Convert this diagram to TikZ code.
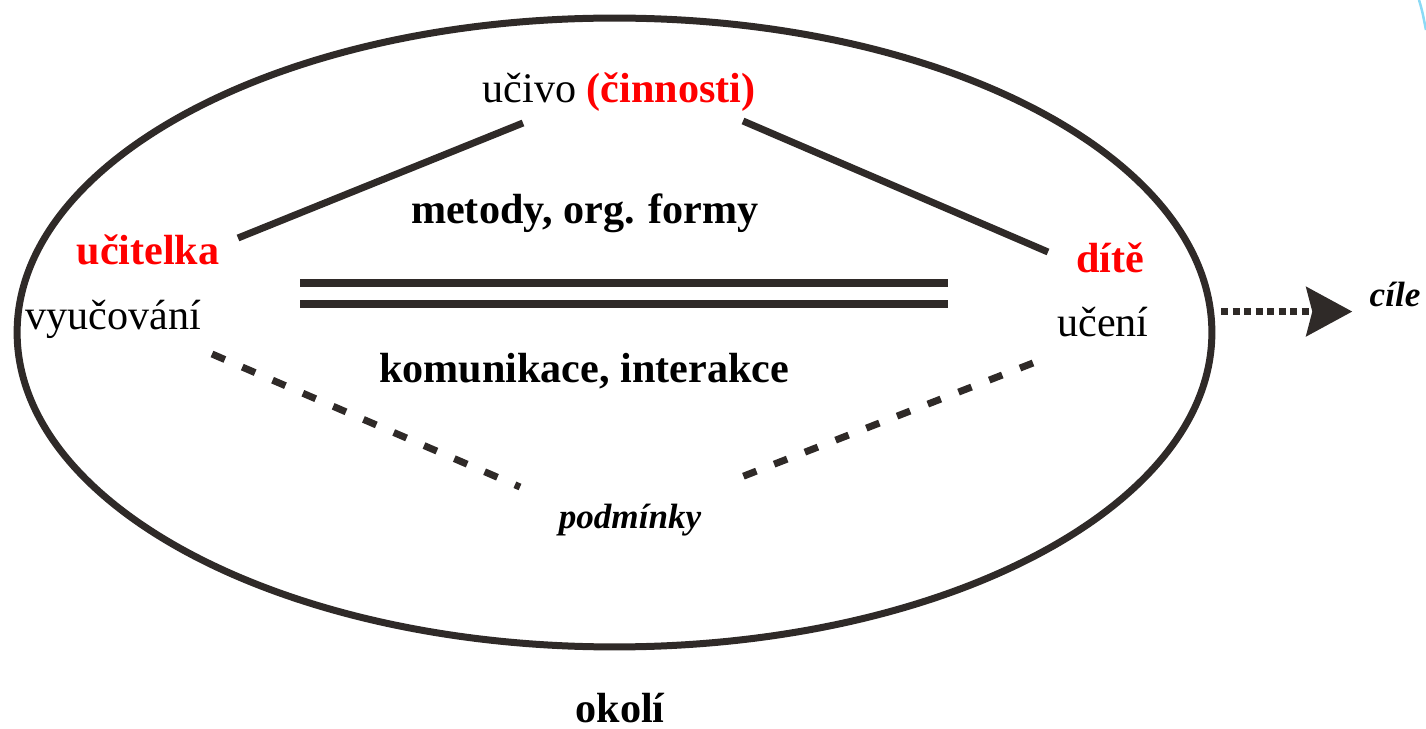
\documentclass[tikz,border=0pt]{standalone}
\usepackage{fontspec}
\setmainfont{Liberation Serif}
\usepackage{tikz}
\usetikzlibrary{shapes.geometric,arrows.meta,positioning}
\definecolor{linegray}{RGB}{47,42,40}
\definecolor{accentred}{RGB}{255,0,0}
\definecolor{edgeblue}{RGB}{140,218,245}

\begin{document}
\begin{tikzpicture}[
    x=0.02cm, y=-0.02cm,
    normaltext/.style={anchor=base, inner sep=0pt, font=\fontsize{24pt}{28pt}\selectfont},
    boldtext/.style={anchor=base, inner sep=0pt, font=\fontsize{24pt}{28pt}\selectfont\bfseries},
    roletext/.style={boldtext, text=accentred},
    notetext/.style={anchor=base, inner sep=0pt, font=\fontsize{20pt}{24pt}\selectfont\bfseries\itshape},
    link/.style={draw=linegray, line width=0.14cm},
    bond/.style={draw=linegray, line width=0.16cm},
    loose/.style={draw=linegray, line width=0.14cm, dash pattern=on 0.28cm off 0.38cm},
    goalarrow/.style={draw=linegray, line width=0.14cm, dash pattern=on 0.14cm off 0.09cm,
                      -{Stealth[length=0.92cm, width=0.98cm, inset=0.12cm]}}
]
\useasboundingbox (0,0) rectangle (1426,729);

% Surrounding oval
\node[draw=linegray, line width=0.14cm, ellipse, minimum width=23.9cm,
      minimum height=12.58cm, inner sep=0pt] (classroom) at (614.5,332.5) {};

% Corners of the triangle
\node[normaltext] (content) at (619,103) {učivo \textcolor{accentred}{\textbf{(činnosti)}}};
\node[roletext] (teacher) at (148,265) {učitelka};
\node[normaltext] (teaching) at (113,330) {vyučování};
\node[roletext] (child) at (1110,273) {dítě};
\node[normaltext] (learning) at (1103,337) {učení};

% Inner labels
\node[boldtext] (methods) at (585,224) {metody, org. formy};
\node[boldtext] (talk) at (584,382) {komunikace, interakce};
\node[notetext] (conditions) at (630,528) {podmínky};

% Outside
\node[boldtext] (surround) at (620,722) {okolí};
\node[notetext] (goals) at (1395,307) {cíle};

% Line ends
\coordinate (teacherup) at (238,238);
\coordinate (contentleft) at (523,123);
\coordinate (contentright) at (743,121);
\coordinate (childup) at (1048,252);
\coordinate (teacherdown) at (212,354);
\coordinate (condleft) at (520,487);
\coordinate (condright) at (726,483);
\coordinate (childdown) at (1033,363);

% Connections
\draw[link] (teacherup) -- (contentleft);
\draw[link] (contentright) -- (childup);
\draw[bond] (300,283) coordinate (bondA) -- (948,283) coordinate (bondB);
\draw[bond] (300,304) coordinate (bondC) -- (948,304) coordinate (bondD);
\draw[loose] (teacherdown) -- (condleft);
\draw[loose] (childdown) -- (condright);

% Goals arrow
\draw[goalarrow] ([xshift=0.14cm]classroom.2) -- ([xshift=-0.34cm]classroom.2 -| goals.west);

% Corner stroke
\draw[edgeblue, line width=0.05cm] (1419,0) .. controls (1422,10) .. (1426,30);

\end{tikzpicture}
\end{document}
